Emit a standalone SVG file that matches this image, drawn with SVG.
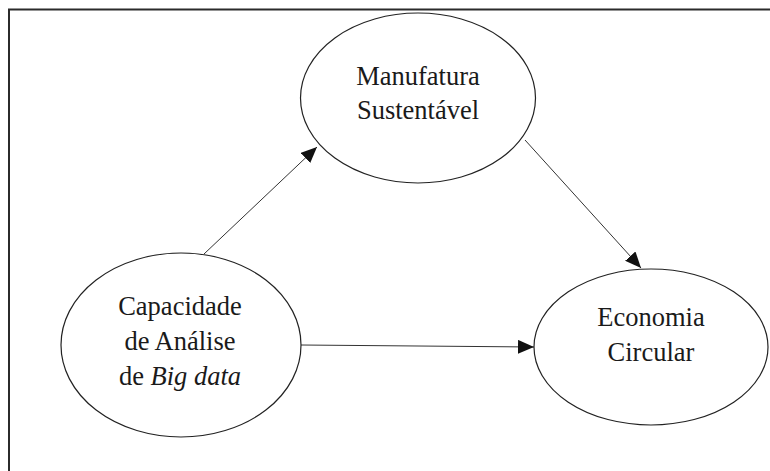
<svg xmlns="http://www.w3.org/2000/svg" width="770" height="471" viewBox="0 0 770 471">
<style>
.node{fill:#fff;stroke:#222;stroke-width:1.2}
.lbl{font-family:"Liberation Serif","Times New Roman",serif;font-size:26.5px;fill:#1a1a1a;text-anchor:middle}
.edge{stroke:#333;stroke-width:1;fill:none;marker-end:url(#ah)}
</style>
<defs>
<marker id="ah" markerUnits="userSpaceOnUse" markerWidth="16" markerHeight="14" refX="16" refY="7" orient="auto">
<path d="M0,0 L16,7 L0,14 z" fill="#111"/>
</marker>
</defs>
<rect width="770" height="471" fill="#fff"/>
<rect x="9" y="9.5" width="780" height="480" fill="none" stroke="#2b2b2b" stroke-width="2"/>
<g id="connectors">
<line class="edge" x1="204" y1="254" x2="317" y2="147"/>
<line class="edge" x1="525" y1="140" x2="641" y2="268"/>
<line class="edge" x1="301" y1="345" x2="534" y2="347"/>
</g>
<g id="manufatura">
<ellipse class="node" cx="418" cy="98" rx="117.5" ry="85"/>
<text class="lbl" x="418" y="85">Manufatura</text>
<text class="lbl" x="418" y="119">Sustentável</text>
</g>
<g id="capacidade">
<ellipse class="node" cx="181" cy="345" rx="120" ry="92"/>
<text class="lbl" x="180" y="315">Capacidade</text>
<text class="lbl" x="180" y="350">de Análise</text>
<text class="lbl" x="180" y="385">de <tspan font-style="italic">Big data</tspan></text>
</g>
<g id="economia">
<ellipse class="node" cx="651" cy="347" rx="117" ry="78"/>
<text class="lbl" x="651" y="326">Economia</text>
<text class="lbl" x="651" y="361">Circular</text>
</g>
</svg>
